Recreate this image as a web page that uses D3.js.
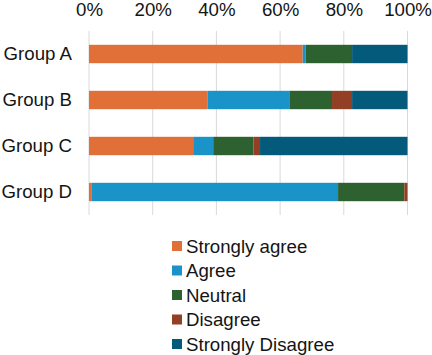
<!DOCTYPE html>
<html><head><meta charset="utf-8">
<script src="https://cdn.jsdelivr.net/npm/d3@7"></script>
<style>body{margin:0;background:#fff}</style>
</head><body>
<svg id="c" width="432" height="355"></svg>
<script>
const groups = ["Group A","Group B","Group C","Group D"];
const seriesNames = ["Strongly agree","Agree","Neutral","Disagree","Strongly Disagree"];
const stronglyAgree = [67.1, 37.3, 32.7, 0.9];
const agree = [0.9, 25.6, 6.3, 77.3];
const neutral = [14.6, 13.4, 12.6, 20.8];
const disagree = [0, 6.3, 2.1, 1.0];
const stronglyDisagree = [17.4, 17.4, 46.3, 0];
const tickValues = [0, 20, 40, 60, 80, 100];
const colors = ["#E07038","#1A94C8","#2E6130","#923F25","#045A7B"];

const svg = d3.select("#c");
const font = "'Liberation Sans', Arial, sans-serif";
const textColor = "#141414";
const x = d3.scaleLinear().domain([0,100]).range([89, 407.5]);
const y = d3.scaleBand().domain(groups).range([31, 215]).paddingInner(0.6).paddingOuter(0.3);

const rows = groups.map((g,i)=>({group:g, "Strongly agree":stronglyAgree[i], "Agree":agree[i], "Neutral":neutral[i], "Disagree":disagree[i], "Strongly Disagree":stronglyDisagree[i]}));
const stack = d3.stack().keys(seriesNames)(rows);

// gridlines
svg.append("g").selectAll("line").data(tickValues).join("line")
  .attr("x1", d=>x(d)).attr("x2", d=>x(d)).attr("y1", 31).attr("y2", 215)
  .attr("stroke", "#d9d9d9").attr("stroke-width", 1);

// top axis
const ax = svg.append("g").attr("transform","translate(0,31)")
  .call(d3.axisTop(x).tickValues(tickValues).tickFormat(d=>d+"%").tickSize(0).tickPadding(15));
ax.select(".domain").remove();
ax.selectAll("text").attr("font-family", font).attr("font-size", "18.67px").attr("fill", textColor);

// left axis labels
const ay = svg.append("g").attr("transform","translate(72,0)")
  .call(d3.axisLeft(y).tickSize(0).tickPadding(0));
ay.select(".domain").remove();
ay.selectAll("text").attr("font-family", font).attr("font-size", "18.67px").attr("fill", textColor);

// bars
svg.append("g").selectAll("g").data(stack).join("g")
  .attr("fill", (d,i)=>colors[i])
  .selectAll("rect").data(d=>d).join("rect")
  .attr("x", d=>x(d[0])).attr("width", d=>Math.max(0, x(d[1])-x(d[0])))
  .attr("y", d=>y(d.data.group)).attr("height", y.bandwidth());

// legend
const lg = svg.append("g").selectAll("g").data(seriesNames).join("g")
  .attr("transform", (d,i)=>`translate(172,${246 + i*24.5})`);
lg.append("rect").attr("x",0).attr("y",-5).attr("width",10).attr("height",10).attr("fill",(d,i)=>colors[i]);
lg.append("text").attr("x",14).attr("y",0).attr("dy","0.35em")
  .attr("font-family", font).attr("font-size","18.67px").attr("fill",textColor).text(d=>d);
</script>
</body></html>
